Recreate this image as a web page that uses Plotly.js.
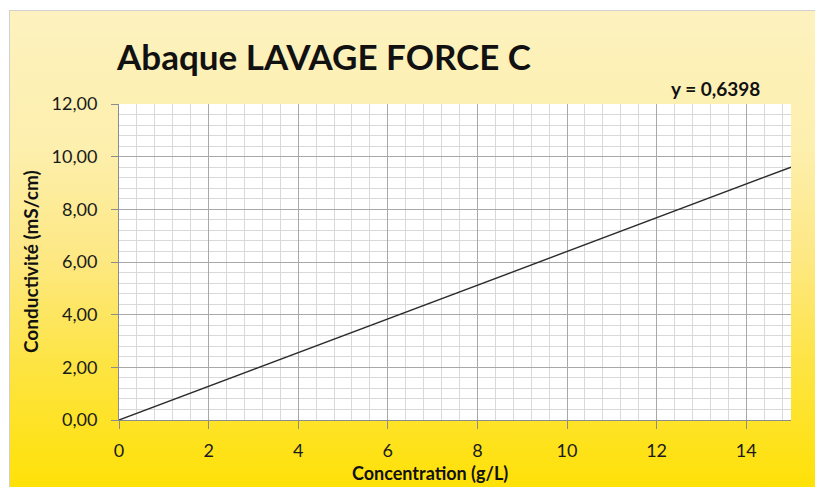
<!DOCTYPE html>
<html>
<head>
<meta charset="utf-8">
<script src="https://cdn.plot.ly/plotly-3.0.1.min.js"></script>
<style>
  html, body { margin: 0; padding: 0; background: #ffffff; }
  #wrap { position: relative; width: 815px; height: 487px; overflow: hidden; background: #ffffff; }
  #box { position: absolute; left: 9px; top: 10px; width: 820px; height: 490px;
         border-left: 1px solid #d0d0d0; border-top: 1px solid #d0d0d0;
         background: linear-gradient(to bottom, #fdf2bf 0%, #fdefad 28%, #fde884 50%, #fde443 72%, #ffe100 100%); }
  #chart { position: absolute; left: 0; top: 0; width: 815px; height: 487px; }
</style>
</head>
<body>
<div id="wrap">
  <div id="box"></div>
  <div id="chart"></div>
</div>
<script>
// Data
const concentration = [0, 1, 2, 3, 4, 5, 6, 7, 8, 9, 10, 11, 12, 13, 14, 15];
const conductivite  = [0, 0.64, 1.28, 1.92, 2.56, 3.20, 3.84, 4.48, 5.12, 5.76, 6.40, 7.04, 7.68, 8.32, 8.96, 9.60];
const xTicks = [0, 2, 4, 6, 8, 10, 12, 14];
const yTicks = [0, 2, 4, 6, 8, 10, 12];
const chartTitle = "Abaque LAVAGE FORCE C";
const equationLabel = "y = 0,6398";
const xTitle = "Concentration (g/L)";
const yTitle = "Conductivité (mS/cm)";

const FONT = "Lato, 'Open Sans', sans-serif";

const trace = {
  x: concentration,
  y: conductivite,
  type: "scatter",
  mode: "lines",
  line: { color: "#2b2b2b", width: 1.4 },
  hoverinfo: "none",
  showlegend: false
};

const layout = {
  width: 815,
  height: 487,
  margin: { l: 119, r: 24, t: 104, b: 67 },
  paper_bgcolor: "rgba(0,0,0,0)",
  plot_bgcolor: "#ffffff",
  separators: ", ",
  font: { family: FONT, color: "#1a1a1a" },
  xaxis: {
    range: [0, 15],
    tickvals: xTicks,
    ticktext: xTicks.map(String),
    showgrid: true,
    gridcolor: "#a8a8a8",
    gridwidth: 1,
    minor: { dtick: 0.4, tick0: 0, showgrid: true, gridcolor: "#d9d9d9", gridwidth: 1, ticks: "" },
    showline: true,
    linecolor: "#8c8c8c",
    linewidth: 1,
    ticks: "outside",
    ticklen: 8,
    tickcolor: "#8c8c8c",
    ticklabelstandoff: 6,
    tickfont: { family: FONT, size: 18, color: "#1a1a1a" },
    zeroline: false,
    fixedrange: true
  },
  yaxis: {
    range: [0, 12],
    tickvals: yTicks,
    tickformat: ".2f",
    showgrid: true,
    gridcolor: "#a8a8a8",
    gridwidth: 1,
    minor: { dtick: 0.4, tick0: 0, showgrid: true, gridcolor: "#d9d9d9", gridwidth: 1, ticks: "" },
    showline: true,
    linecolor: "#8c8c8c",
    linewidth: 1,
    ticks: "outside",
    ticklen: 7,
    tickcolor: "#8c8c8c",
    ticklabelstandoff: 10,
    tickfont: { family: FONT, size: 18, color: "#1a1a1a" },
    zeroline: false,
    fixedrange: true
  },
  annotations: [
    { text: "<b>" + chartTitle + "</b>", xref: "paper", yref: "paper", x: -0.008, y: 1.152,
      xanchor: "left", yanchor: "middle", showarrow: false,
      font: { family: FONT, size: 35, color: "#111111" } },
    { text: "<b>" + equationLabel + "</b>", xref: "paper", yref: "paper", x: 0.887, y: 1.0506,
      xanchor: "center", yanchor: "middle", showarrow: false,
      font: { family: FONT, size: 19, color: "#111111" } },
    { text: "<b>" + xTitle + "</b>", xref: "paper", yref: "paper", x: 0.4628, y: -0.168,
      xanchor: "center", yanchor: "middle", showarrow: false,
      font: { family: FONT, size: 18, color: "#111111" } },
    { text: "<b>" + yTitle + "</b>", xref: "paper", yref: "paper", x: -0.1324, y: 0.5,
      xanchor: "center", yanchor: "middle", showarrow: false, textangle: -90,
      font: { family: FONT, size: 19, color: "#111111" } }
  ]
};

Plotly.newPlot("chart", [trace], layout, { displayModeBar: false, staticPlot: true });
</script>
</body>
</html>
